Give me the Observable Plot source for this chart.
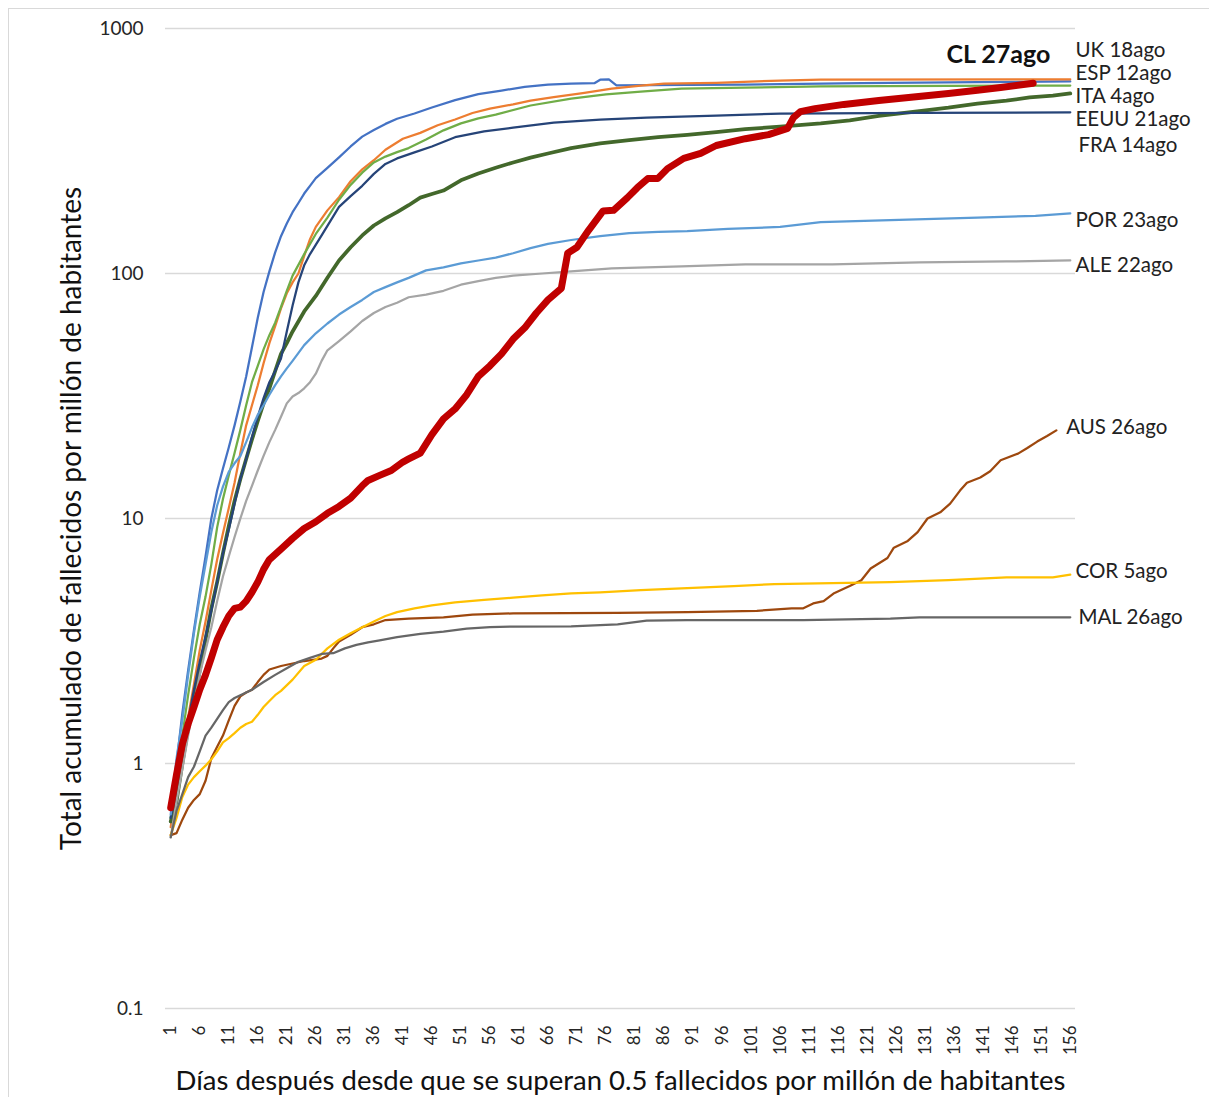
<!DOCTYPE html>
<html><head><meta charset="utf-8">
<script src="https://cdn.jsdelivr.net/npm/d3@7"></script>
<script src="https://cdn.jsdelivr.net/npm/@observablehq/plot@0.6"></script>
<style>
body{margin:0;background:#fff;}
#wrap{position:relative;width:1209px;height:1097px;overflow:hidden;background:#fff;}
#frame{position:absolute;left:8px;top:8px;width:1400px;height:1400px;border-left:1px solid #d9d9d9;border-top:1px solid #d9d9d9;}
#chart{position:absolute;left:0;top:0;}
</style></head><body>
<div id="wrap"><div id="frame"></div><div id="chart"></div></div>
<script>
// [day, deaths per million]
const UK = [[1,0.6],[2,1.0],[3,1.6],[4,2.4],[5,3.5],[6,5],[7,7],[8,10],[9,13],[10,16],[11,19.5],[12,24],[13,30],[14,38],[15,50],[16,66],[17,84],[18,102],[19,122],[20,142],[21,160],[22,178],[23,194],[24,212],[25,228],[26,245],[28,270],[30,298],[32,330],[34,362],[36,385],[38,408],[40,428],[43,450],[46,476],[50,510],[54,540],[58,558],[62,578],[66,590],[70,596],[74,598],[75,618],[76.5,620],[77.8,586],[90,589],[100,590],[120,598],[140,604],[156,608]];
const ESP = [[1,0.55],[2,0.8],[3,1.1],[4,1.55],[5,2.1],[6,2.9],[7,3.8],[8,5.1],[9,6.8],[10,8.7],[11,11],[12,14],[13,18.5],[14,24],[15,29],[16,35],[17,43],[18,52],[19,61],[20,72],[21,83],[22,92],[23,100],[24,118],[25,138],[26,155],[28,181],[30,205],[32,238],[34,266],[36,290],[38,320],[41,355],[44,375],[47,403],[50,425],[53,452],[56,471],[60,490],[63,508],[67,525],[72,545],[77,568],[82,585],[86,596],[95,600],[106,613],[113,619],[156,620]];
const ITA = [[1,0.6],[2,0.9],[3,1.3],[4,1.9],[5,2.7],[6,3.7],[7,4.8],[8,6.5],[9,9.2],[10,12],[11,15],[12,18.5],[13,23],[14,29],[15,36],[16,42],[17,49],[18,56],[19,63],[20,73],[21,85],[22,98],[24,120],[26,145],[28,169],[30,200],[32,230],[34,258],[36,284],[38,300],[40,313],[42,325],[45,352],[48,384],[51,410],[54,430],[57,445],[63,485],[70,517],[76,538],[82,552],[89,568],[100,574],[113,580],[135,583],[156,585]];
const EEUU = [[1,0.58],[2,0.7],[3,1.0],[4,1.4],[5,1.8],[6,2.4],[7,3.2],[8,4.3],[9,5.5],[10,7.2],[11,9.3],[12,11.8],[13,14.5],[14,17.5],[15,21],[16,25],[17,29.5],[18,34],[19,40],[20,47],[21,52],[22,58],[24,70],[26,81],[28,96],[30,113],[32,128],[34,143],[36,157],[38,168],[40,178],[42,190],[44,204],[46,211],[48,218],[51,240],[54,256],[57,270],[60,284],[63,297],[66,309],[70,325],[75,340],[80,350],[85,360],[90,368],[95,378],[100,388],[106,398],[113,410],[118,422],[123,440],[130,460],[135,475],[140,494],[145,508],[149,523],[153,532],[156,543]];
const FRA = [[1,0.6],[2,0.8],[3,1.1],[4,1.5],[5,2.0],[6,2.6],[7,3.3],[8,4.2],[9,5.5],[10,7.2],[11,9],[12,11.5],[13,14.5],[14,17.5],[15,21.5],[16,26],[17,31],[18,36],[19,40],[20,45],[21,58],[22,74],[23,92],[24,108],[25,120],[27,143],[30,187],[32,207],[34,228],[36,255],[38,280],[40,295],[43,312],[46,330],[50,360],[55,380],[60,394],[67,413],[75,425],[83,433],[95,441],[106,449],[130,452],[156,455]];
const POR = [[1,0.62],[2,1.05],[3,1.5],[4,2.3],[5,3.4],[6,4.8],[7,6.5],[8,8.8],[9,11.3],[10,13.5],[11,15.5],[12,16.8],[13,18],[14,20.5],[15,23.5],[16,26.5],[17,29],[18,32],[19,35],[20,38],[21,41],[22,44],[24,51],[26,57],[28,62.5],[30,68],[32,73],[34,78],[36,84],[38,88],[40,92],[42,96],[45,103],[48,106],[51,110],[54,113],[57,116],[60,121],[63,127],[66,132],[70,137],[75,142],[80,146],[85,148],[90,149],[97,152],[106,155],[113,162],[125,165],[140,169],[150,172],[156,176]];
const ALE = [[1,0.5],[2,0.7],[3,0.95],[4,1.3],[5,1.75],[6,2.3],[7,2.9],[8,3.6],[9,4.6],[10,5.8],[11,7.0],[12,8.4],[13,10],[14,11.8],[15,13.6],[16,15.7],[17,18],[18,20.5],[19,23],[20,26],[21,29.5],[22,31.5],[23,32.5],[24,34],[25,36],[26,39],[27,44],[28,48.6],[30,53],[32,58],[34,64],[36,69],[38,73],[40,76],[42,80],[45,82],[48,85],[51,90],[54,93],[57,96],[60,98],[65,100],[70,102],[77,105],[89,107],[100,109],[115,109],[130,111],[145,112],[156,113]];
const AUS = [[1,0.51],[2,0.52],[3,0.59],[4,0.66],[5,0.71],[6,0.75],[7,0.85],[8,1.05],[9,1.17],[10,1.3],[11,1.5],[12,1.72],[13,1.88],[14,1.95],[15,2.0],[16,2.15],[17,2.3],[18,2.42],[20,2.5],[22,2.56],[24,2.62],[27,2.68],[28,2.75],[29,2.95],[30,3.15],[32,3.35],[34,3.6],[36,3.7],[38,3.85],[42,3.9],[48,3.95],[53,4.05],[60,4.1],[78,4.12],[90,4.15],[102,4.2],[108,4.3],[110,4.3],[111.7,4.5],[113.5,4.6],[115.2,4.94],[118,5.3],[120,5.6],[121.6,6.25],[124.5,6.9],[125.6,7.6],[128,8.1],[129.7,8.8],[131.4,10],[133.6,10.6],[135.3,11.5],[137,13],[138.2,14],[140.5,14.7],[142.2,15.6],[144,17.3],[147,18.4],[148.6,19.4],[150.3,20.6],[152,21.7],[153.6,22.9]];
const COR = [[1,0.51],[2,0.6],[3,0.73],[4,0.82],[5,0.88],[6,0.93],[7,0.98],[8,1.04],[9,1.12],[10,1.22],[11,1.27],[12,1.33],[13,1.4],[14,1.45],[15,1.48],[16,1.58],[17,1.7],[18,1.8],[19,1.9],[20,1.98],[22,2.2],[24,2.5],[26,2.65],[28,2.95],[30,3.2],[32,3.4],[34,3.6],[36,3.8],[38,4.0],[40,4.15],[43,4.3],[46,4.42],[50,4.55],[55,4.65],[60,4.75],[65,4.85],[70,4.95],[75,5.0],[82,5.1],[90,5.2],[98,5.3],[105,5.4],[115,5.45],[125,5.5],[135,5.6],[145,5.75],[153,5.75],[156,5.9]];
const MAL = [[1,0.5],[2,0.64],[3,0.75],[4,0.88],[5,0.97],[6,1.12],[7,1.3],[8,1.4],[9,1.52],[10,1.65],[11,1.78],[12,1.85],[13,1.9],[15,2.0],[17,2.15],[19,2.3],[21,2.45],[23,2.6],[25,2.7],[27,2.8],[29,2.82],[31,2.95],[33,3.05],[35,3.12],[37,3.18],[40,3.28],[44,3.38],[48,3.45],[52,3.55],[56,3.6],[60,3.62],[70,3.63],[78,3.7],[83,3.83],[90,3.85],[110,3.85],[125,3.9],[130,3.95],[156,3.95]];
const CL = [[1,0.66],[2,0.9],[3,1.2],[4,1.45],[5,1.7],[6,2.0],[7,2.3],[8,2.7],[9,3.2],[10,3.6],[11,4.0],[12,4.3],[13,4.35],[14,4.6],[15,5.0],[16,5.5],[17,6.2],[18,6.8],[20,7.5],[22,8.3],[24,9.1],[26,9.7],[28,10.5],[30,11.2],[32,12.1],[34,13.6],[35,14.3],[37,15],[39,15.7],[41,17],[42,17.5],[44,18.5],[46,22],[48,25.5],[50,28],[52,32],[54,38],[56,42],[58,47],[60,54],[62,60],[64,69],[66,78],[68.3,87],[69.4,121],[71,128],[73,150],[75.5,180],[77.3,181],[79.7,204],[81.4,224],[83.2,244],[84.9,244],[86.6,268],[89.4,295],[92.3,309],[95,333],[100,355],[104,369],[107.3,391],[108.3,433],[109.5,458],[112,471],[117,490],[123,508],[129,525],[135,543],[140,560],[144,574],[149.6,598]];

const seriesNames = ["UK","ESP","ITA","EEUU","FRA","POR","ALE","AUS","COR","MAL","CL"];
const seriesData = [UK,ESP,ITA,EEUU,FRA,POR,ALE,AUS,COR,MAL,CL];
const seriesColors = ["#4472C4","#ED7D31","#70AD47","#43682B","#264478","#5B9BD5","#A5A5A5","#9E480E","#FFC000","#666666","#C00000"];
const seriesWidths = [2.25,2.25,2.25,3.75,2.25,2.25,2.25,2.25,2.25,2.25,7];

const labelText = ["UK 18ago","ESP 12ago","ITA 4ago","EEUU 21ago","FRA 14ago","POR 23ago","ALE 22ago","AUS 26ago","COR 5ago","MAL 26ago"];
const labelDay = [156.9,156.9,156.9,156.9,157.4,156.9,156.9,155.3,156.9,157.4];
const labelValue = [813,655,527,425,333,164,108,23.5,6.08,3.94];
const clLabel = {text:"CL 27ago", day:143.6, value:776};

const yTicks = [0.1,1,10,100,1000];
const yTickLabels = ["0.1","1","10","100","1000"];
const xTicks = d3.range(1,157,5);
const yTitle = "Total acumulado de fallecidos por millón de habitantes";
const xTitle = "Días después desde que se superan 0.5 fallecidos por millón de habitantes";

const lineMarks = seriesData.map((data,i) => Plot.line(data, {
  x: d => d[0], y: d => d[1], stroke: seriesColors[i], strokeWidth: seriesWidths[i],
  strokeLinejoin: "round", strokeLinecap: "round"
}));

const labels = labelText.map((t,i) => ({t, day: labelDay[i], v: labelValue[i]}));

const chart = Plot.plot({
  width: 1209, height: 1097,
  marginLeft: 165, marginRight: 134, marginTop: 28, marginBottom: 89,
  style: {fontFamily: "Lato, sans-serif", background: "transparent", color: "#262626", overflow: "visible"},
  x: {domain: [0.1, 156.9]},
  y: {type: "log", domain: [0.1, 1000]},
  marks: [
    Plot.ruleY(yTicks, {stroke: "#d9d9d9", strokeWidth: 1.3}),
    Plot.axisY({ticks: yTicks, tickFormat: d => yTickLabels[yTicks.indexOf(d)], tickSize: 0, tickPadding: 22, fontSize: 19, label: null}),
    Plot.axisX({ticks: xTicks, tickRotate: -90, tickSize: 0, tickPadding: 17, fontSize: 17, label: null}),
    Plot.text([yTitle], {frameAnchor: "left", textAnchor: "middle", lineAnchor: "middle", rotate: -90, dx: -93, fontSize: 28, fill: "#111"}),
    Plot.text([xTitle], {frameAnchor: "bottom", dy: 81, fontSize: 27.5, fill: "#111"}),
    ...lineMarks,
    Plot.text(labels, {x: "day", y: "v", text: "t", textAnchor: "start", fontSize: 20.5, fill: "#222"}),
    Plot.text([clLabel], {x: "day", y: "value", text: "text", fontSize: 25, fontWeight: "bold", fill: "#111"})
  ]
});
document.getElementById("chart").appendChild(chart);
</script>
</body></html>
